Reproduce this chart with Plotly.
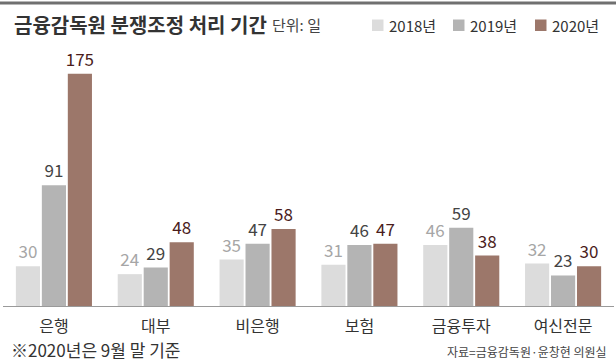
import plotly.graph_objects as go

categories = ["은행", "대부", "비은행", "보험", "금융투자", "여신전문"]
v2018 = [30, 24, 35, 31, 46, 32]
v2019 = [91, 29, 47, 46, 59, 23]
v2020 = [175, 48, 58, 47, 38, 30]
series_names = ["2018년", "2019년", "2020년"]
bar_colors = ["#dcdcdc", "#b4b4b4", "#9c776a"]
text_colors = ["#a6a6a6", "#444444", "#4a1c1c"]

FONT = "Noto Sans CJK KR"
L, R, T, B = 3, 2, 60, 55
W, H = 616, 361
PW, PH = W - L - R, H - T - B

def px(x):
    return (x - L) / PW

def py(y):
    return (H - B - y) / PH

fig = go.Figure()
for name, vals, c, tc in zip(series_names, [v2018, v2019, v2020], bar_colors, text_colors):
    fig.add_trace(go.Bar(
        x=categories, y=vals, name=name, marker_color=c, marker_line_width=0,
        text=[str(v) for v in vals], textposition="outside",
        textfont=dict(family=FONT, size=17, color=tc),
        constraintext="none", cliponaxis=False, showlegend=False,
    ))

ann = [
    dict(text="<b>금융감독원 분쟁조정 처리 기간</b>", x=px(12), y=py(24), font=dict(size=20, color="#333333")),
    dict(text="단위: 일", x=px(270), y=py(25), font=dict(size=15, color="#444444")),
    dict(text="※2020년은 9월 말 기준", x=px(9), y=py(349), font=dict(size=17, color="#333333")),
    dict(text="자료=금융감독원·윤창현 의원실", x=px(609), y=py(351), font=dict(size=12, color="#444444"), xanchor="right"),
]
shapes = [dict(type="line", xref="paper", yref="paper", x0=px(0), x1=px(616), y0=py(3), y1=py(3),
               line=dict(color="#707070", width=3))]
leg_x = [372, 453, 535]
for lx, name, c in zip(leg_x, series_names, bar_colors):
    shapes.append(dict(type="rect", xref="paper", yref="paper", x0=px(lx), x1=px(lx + 11.5),
                       y0=py(31), y1=py(19.5), fillcolor=c, line=dict(width=0)))
    ann.append(dict(text=name, x=px(lx + 15), y=py(25.5), font=dict(size=15, color="#333333")))

annotations = []
for a in ann:
    d = dict(xref="paper", yref="paper", showarrow=False, xanchor="left", yanchor="middle")
    d.update(a)
    d["font"] = dict(family=FONT, **a["font"])
    annotations.append(d)

fig.update_layout(
    width=W, height=H,
    margin=dict(l=L, r=R, t=T, b=B, pad=0),
    paper_bgcolor="white", plot_bgcolor="white",
    barmode="group", bargap=0.235, bargroupgap=0.07,
    font=dict(family=FONT),
    xaxis=dict(showline=True, linecolor="#9a9a9a", linewidth=1, ticks="", ticklabelstandoff=6,
               tickfont=dict(family=FONT, size=16, color="#333333"), showgrid=False),
    yaxis=dict(range=[0, 185.4], visible=False, showgrid=False, zeroline=False),
    annotations=annotations,
    shapes=shapes,
)

fig.write_html("out.html", config={"displayModeBar": False},
               post_script="document.body.style.margin='0';document.body.style.overflow='hidden';")
